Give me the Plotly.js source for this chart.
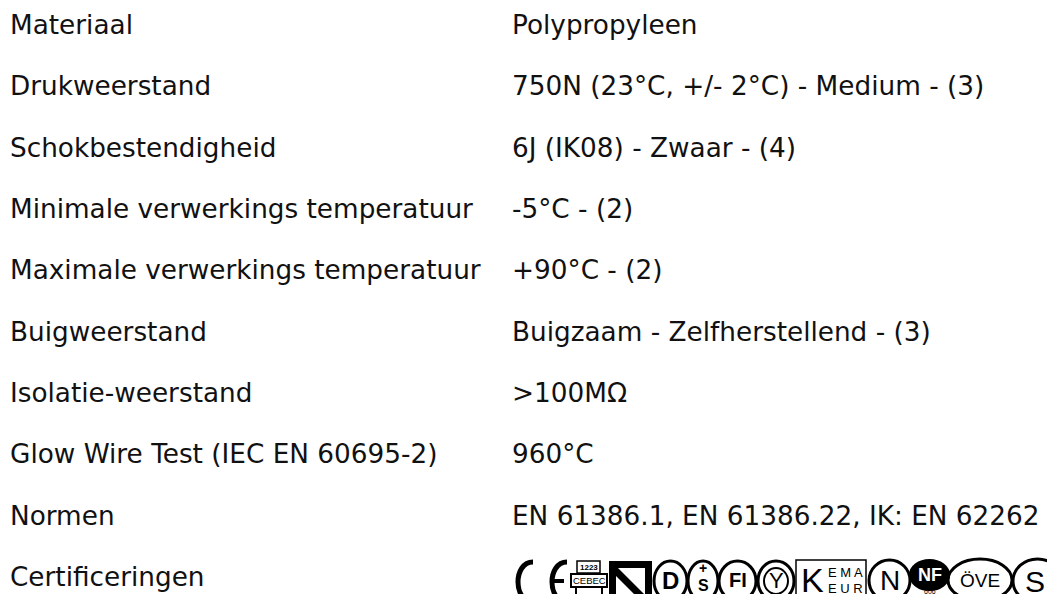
<!DOCTYPE html>
<html>
<head>
<meta charset="utf-8">
<script src="https://cdn.plot.ly/plotly-3.0.1.min.js"></script>
<style>
html,body{margin:0;padding:0;background:#fff;}
#chart{width:1047px;height:594px;}
</style>
</head>
<body>
<div id="chart"></div>
<script>
// ---- Data ----
const labels = [
  "Materiaal",
  "Drukweerstand",
  "Schokbestendigheid",
  "Minimale verwerkings temperatuur",
  "Maximale verwerkings temperatuur",
  "Buigweerstand",
  "Isolatie-weerstand",
  "Glow Wire Test (IEC EN 60695-2)",
  "Normen",
  "Certificeringen"
];
const values = [
  "Polypropyleen",
  "750N (23°C, +/- 2°C) - Medium - (3)",
  "6J (IK08) - Zwaar - (4)",
  "-5°C - (2)",
  "+90°C - (2)",
  "Buigzaam - Zelfherstellend - (3)",
  ">100MΩ",
  "960°C",
  "EN 61386.1, EN 61386.22, IK: EN 62262",
  ""
];
const certMarks = ["CE", "CEBEC", "N", "D", "S+", "FI", "Y", "KEMA-KEUR", "N-circle", "NF", "ÖVE", "S"];

// ---- Layout constants ----
const W = 1047, H = 594;
const labelX = 8, valueX = 510;
const rowTop = 25, rowStep = 61.35;
const FONT = "'DejaVu Sans', sans-serif";
const fs = 26.3;
const txt = "#111111";

const annotations = [];
const shapes = [];

labels.forEach((lab, i) => {
  const y = rowTop + i * rowStep;
  annotations.push({x: labelX, y: y, xref: "x", yref: "y", text: lab, showarrow: false,
    xanchor: "left", yanchor: "middle", font: {family: FONT, size: fs, color: txt}});
  if (values[i]) {
    annotations.push({x: valueX, y: y, xref: "x", yref: "y", text: values[i], showarrow: false,
      xanchor: "left", yanchor: "middle", font: {family: FONT, size: fs, color: txt}});
  }
});

// ---- Certification marks (approximate drawings) ----
const cy = 580;   // vertical centre of the logos
const k = "#000";
function circ(x0, x1, y0, y1, w) {
  shapes.push({type: "circle", xref: "x", yref: "y", x0: x0, x1: x1, y0: y0, y1: y1,
    line: {color: k, width: w || 3}});
}
function path(p, w, fill) {
  shapes.push({type: "path", xref: "x", yref: "y", path: p,
    line: {color: k, width: w}, fillcolor: fill || "rgba(0,0,0,0)"});
}
function t(x, y, s, size, opts) {
  opts = opts || {};
  annotations.push({x: x, y: y, xref: "x", yref: "y", text: s, showarrow: false,
    xanchor: "center", yanchor: "middle", borderpad: 0,
    font: {family: opts.family || "'Liberation Sans', Arial, sans-serif", size: size, color: opts.color || k,
           weight: opts.weight || "bold"}});
}
// CE
path("M 533 562 C 513 562, 513 602, 533 602", 5);
path("M 567 562 C 547 562, 547 602, 567 602", 5);
path("M 551 581 L 564 581", 4);
// CEBEC
shapes.push({type: "rect", xref: "x", yref: "y", x0: 577, x1: 600, y0: 561, y1: 573, line: {color: k, width: 1.5}});
t(588.5, 567.5, "1223", 8);
shapes.push({type: "rect", xref: "x", yref: "y", x0: 571, x1: 607, y0: 574, y1: 587, line: {color: k, width: 2}});
t(589, 580.5, "CEBEC", 9.5, {weight: "normal"});
path("M 576 587 L 576 596", 2);
path("M 602 587 L 602 596", 2);
// N (angular)
path("M 609 561 L 652 561 L 652 598 L 645 598 L 645 568 L 618 568 L 648 598 L 638 598 L 616 576 L 616 598 L 609 598 Z", 0, k);
// D circle
circ(654, 687, 561, 601);
t(670.5, cy, "D", 24);
// S with plus
circ(688, 718, 561, 601);
t(703, 568, "+", 14);
t(703, 585, "S", 16);
// FI
circ(719, 756, 561, 601);
t(737.5, cy, "FI", 20);
// Y-mark
circ(758, 794, 561, 601);
t(776, cy, "Y", 22, {weight: "normal"});
shapes.push({type: "circle", xref: "x", yref: "y", x0: 764, x1: 788, y0: 568, y1: 594, line: {color: k, width: 2}});
// KEMA KEUR
shapes.push({type: "rect", xref: "x", yref: "y", x0: 796, x1: 866, y0: 560, y1: 602, line: {color: k, width: 1.5}});
t(812, cy, "K", 34, {weight: "normal"});
t(845, 572, "E M A", 13, {weight: "normal"});
t(845, 588, "E U R", 13, {weight: "normal"});
// N circle
circ(869, 910, 560, 601);
t(889.5, cy, "N", 28, {weight: "normal"});
// NF
shapes.push({type: "circle", xref: "x", yref: "y", x0: 910, x1: 949, y0: 560, y1: 590,
  line: {color: k, width: 2}, fillcolor: k});
t(929.5, 575, "NF", 18, {color: "#fff"});
t(929.5, 591, "606", 7, {weight: "normal"});
// ÖVE
shapes.push({type: "circle", xref: "x", yref: "y", x0: 948, x1: 1012, y0: 559, y1: 601, line: {color: k, width: 3}});
t(980, cy, "ÖVE", 19, {weight: "normal"});
// S circle (cut by edge)
circ(1013, 1062, 559, 603);
t(1035, cy + 1, "S", 30, {weight: "normal"});

const layout = {
  width: W, height: H,
  margin: {l: 0, r: 0, t: 0, b: 0, pad: 0},
  paper_bgcolor: "#ffffff", plot_bgcolor: "#ffffff",
  showlegend: false,
  xaxis: {range: [0, W], visible: false, fixedrange: true},
  yaxis: {range: [H, 0], visible: false, fixedrange: true},
  annotations: annotations,
  shapes: shapes
};
Plotly.newPlot("chart", [{type: "scatter", x: [], y: [], mode: "markers"}], layout, {displayModeBar: false, staticPlot: true});
</script>
</body>
</html>
